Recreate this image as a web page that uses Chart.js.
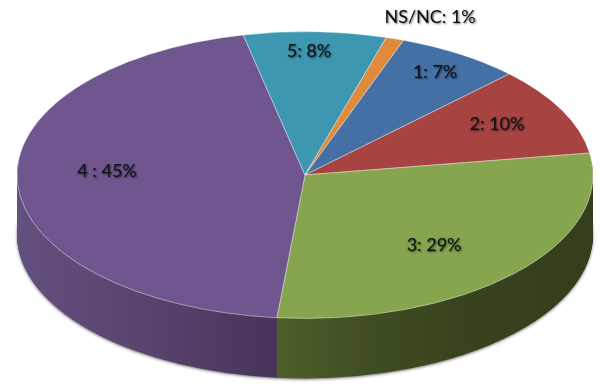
<!DOCTYPE html>
<html>
<head>
<meta charset="utf-8">
<style>
html,body{margin:0;padding:0;background:#fff;overflow:hidden}
canvas{display:block}
</style>
<script src="https://cdn.jsdelivr.net/npm/chart.js@4"></script>
</head>
<body>
<canvas id="Grafica1" width="600" height="386"></canvas>
<script>
// datos
const categorias = ['1', '2', '3', '4 ', '5', 'NS/NC'];
const valores = [7, 10, 29, 45, 8, 1];

const colores = ['#4470a6', '#a74442', '#87a44e', '#6f568e', '#3e97b1', '#e08a3c'];
// etiqueta: distancia al centro (fraccion del radio) y giro en grados
const alcanceEtiquetas = [0.85, 0.755, 0.666, 0.688, 0.865, 1.18];
const giroEtiquetas = [-0.5, -1.2, 4.3, 5.7, -1.1, 3.4];

const CENTRO_Y = 175;
const APLASTADO = 0.498;
const GROSOR = 60;

const aplastar = (ctx, arc, dy) => {
    ctx.translate(0, CENTRO_Y + dy);
    ctx.scale(1, APLASTADO);
    ctx.translate(0, -arc.y);
};

const degradadoLateral = (ctx, i) => {
    const g = ctx.createLinearGradient(17, 0, 592, 0);
    if (i === 3) { // morado
        g.addColorStop(0, '#63507f');
        g.addColorStop(0.15, '#5d4875');
        g.addColorStop(0.45, '#483558');
        g.addColorStop(1, '#483558');
    } else if (i === 2) { // verde
        g.addColorStop(0, '#4f5f2a');
        g.addColorStop(0.45, '#4f5f2a');
        g.addColorStop(0.62, '#3f4d22');
        g.addColorStop(0.78, '#37431e');
        g.addColorStop(1, '#333f1c');
    } else {
        return '#555555';
    }
    return g;
};

const pastel3d = {
    id: 'pastel3d',
    beforeDatasetsDraw(chart) {
        const ctx = chart.ctx;
        const arcos = chart.getDatasetMeta(0).data;
        // pared lateral: copias del mismo arco hacia abajo
        for (let d = GROSOR; d >= 1; d--) {
            arcos.forEach((arc, i) => {
                const original = arc.options;
                arc.options = Object.assign({}, original, {
                    backgroundColor: degradadoLateral(ctx, i),
                    borderWidth: 0
                });
                ctx.save();
                if (d === GROSOR) {
                    ctx.shadowColor = 'rgba(0,0,0,0.55)';
                    ctx.shadowBlur = 3;
                    ctx.shadowOffsetY = 1;
                }
                aplastar(ctx, arc, d);
                arc.draw(ctx);
                ctx.restore();
                arc.options = original;
            });
        }
        ctx.save();
        aplastar(ctx, arcos[0], 0);
    },
    afterDatasetsDraw(chart) {
        chart.ctx.restore();
    },
    afterDraw(chart) {
        const ctx = chart.ctx;
        const arcos = chart.getDatasetMeta(0).data;
        ctx.save();
        ctx.font = '18px Lato';
        ctx.textAlign = 'center';
        ctx.textBaseline = 'middle';
        ctx.fillStyle = '#0c1014';
        ctx.shadowColor = 'rgba(0,0,0,0.6)';
        ctx.shadowBlur = 2;
        ctx.shadowOffsetX = 1;
        ctx.shadowOffsetY = 1;
        arcos.forEach((arc, i) => {
            const angulo = (arc.startAngle + arc.endAngle) / 2 + giroEtiquetas[i] * Math.PI / 180;
            const r = arc.outerRadius * alcanceEtiquetas[i];
            const x = arc.x + Math.cos(angulo) * r;
            const y = CENTRO_Y + Math.sin(angulo) * r * APLASTADO;
            ctx.fillText(`${categorias[i]}: ${valores[i]}%`, x, y);
        });
        ctx.restore();
    }
};

const grafica1 = document.getElementById('Grafica1').getContext('2d');
var chart1 = new Chart(grafica1, {
    type: 'pie',
    data: {
        labels: categorias,
        datasets: [{
            data: valores,
            backgroundColor: colores,
            borderColor: 'rgba(255,255,255,0.6)',
            borderWidth: 1,
            clip: false
        }]
    },
    options: {
        responsive: false,
        animation: false,
        rotation: 20,
        radius: 288,
        layout: { padding: { left: 10 } },
        plugins: {
            legend: { display: false },
            tooltip: { enabled: false }
        }
    },
    plugins: [pastel3d]
});
</script>
</body>
</html>
